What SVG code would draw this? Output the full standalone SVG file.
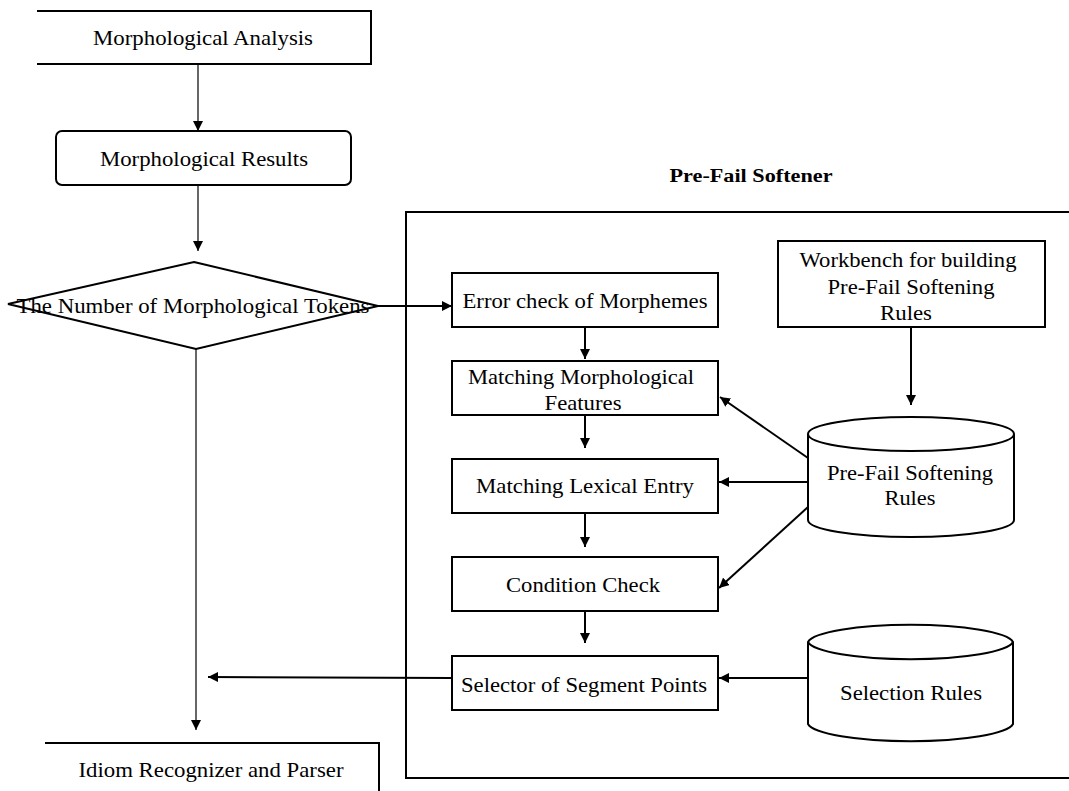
<svg xmlns="http://www.w3.org/2000/svg" width="1069" height="791" viewBox="0 0 1069 791">
<style>
text{font-family:"Liberation Serif","Times New Roman",serif;font-size:21px;fill:#000;text-anchor:middle}
.b{fill:#fff;stroke:#000;stroke-width:2}
.o{fill:none;stroke:#000;stroke-width:2}
.c1{fill:none;stroke:#000;stroke-width:1.2}
.c2{fill:none;stroke:#000;stroke-width:2}
.t{font-weight:bold;font-size:18px}
</style>
<defs>
<marker id="ah" viewBox="0 0 10 10" refX="10" refY="5" markerWidth="10" markerHeight="10" markerUnits="userSpaceOnUse" orient="auto">
<path d="M0,0 L10,5 L0,10 Z" fill="#000"/>
</marker>
<marker id="ah2" viewBox="0 0 10 10" refX="10" refY="5" markerWidth="7" markerHeight="7" markerUnits="strokeWidth" orient="auto">
<path d="M0,0 L10,5 L0,10 Z" fill="#000"/>
</marker>
</defs>

<g id="prefail-softener">
<path class="o" d="M1069,212 H406 V778 H1069"/>
<text class="t" x="751" y="182" textLength="163" lengthAdjust="spacingAndGlyphs">Pre-Fail Softener</text>
</g>

<g id="morph-analysis">
<path class="o" d="M37,11 H371 V64 H37"/>
<text x="203" y="45" textLength="220" lengthAdjust="spacingAndGlyphs">Morphological Analysis</text>
</g>

<g id="morph-results">
<rect class="b" x="56" y="131" width="295" height="54" rx="6" stroke-width="1.5"/>
<text x="204" y="166" textLength="208" lengthAdjust="spacingAndGlyphs">Morphological Results</text>
</g>

<g id="decision">
<polygon class="b" stroke-width="1.5" points="194,262 378,306 196,349 8,304"/>
<text x="193" y="313" textLength="353" lengthAdjust="spacingAndGlyphs">The Number of Morphological Tokens</text>
</g>

<g id="idiom">
<path class="o" stroke-width="1.5" d="M45,743 H379 V791"/>
<text x="211" y="777" textLength="265" lengthAdjust="spacingAndGlyphs">Idiom Recognizer and Parser</text>
</g>

<g id="error-check">
<rect class="b" x="452" y="273" width="266" height="54"/>
<text x="585" y="308" textLength="245" lengthAdjust="spacingAndGlyphs">Error check of Morphemes</text>
</g>

<g id="workbench">
<rect class="b" x="778" y="241" width="267" height="86"/>
<text x="908" y="267" textLength="217" lengthAdjust="spacingAndGlyphs">Workbench for building</text>
<text x="911" y="294" textLength="167" lengthAdjust="spacingAndGlyphs">Pre-Fail Softening</text>
<text x="906" y="320" textLength="52" lengthAdjust="spacingAndGlyphs">Rules</text>
</g>

<g id="matching-features">
<rect class="b" x="452" y="361" width="266" height="54"/>
<text x="581" y="384" textLength="226" lengthAdjust="spacingAndGlyphs">Matching Morphological</text>
<text x="583" y="410" textLength="77" lengthAdjust="spacingAndGlyphs">Features</text>
</g>

<g id="matching-lexical">
<rect class="b" x="452" y="459" width="266" height="54"/>
<text x="585" y="493" textLength="218" lengthAdjust="spacingAndGlyphs">Matching Lexical Entry</text>
</g>

<g id="condition-check">
<rect class="b" x="452" y="557" width="266" height="54"/>
<text x="583" y="592" textLength="154" lengthAdjust="spacingAndGlyphs">Condition Check</text>
</g>

<g id="selector">
<rect class="b" x="452" y="656" width="266" height="54"/>
<text x="584" y="692" textLength="246" lengthAdjust="spacingAndGlyphs">Selector of Segment Points</text>
</g>

<g id="softening-rules">
<path class="b" d="M808,434 A103,17 0 0 1 1014,434 V520 A103,17 0 0 1 808,520 Z"/>
<path class="o" d="M808,434 A103,17 0 0 0 1014,434"/>
<text x="910" y="480" textLength="166" lengthAdjust="spacingAndGlyphs">Pre-Fail Softening</text>
<text x="910" y="505" textLength="51" lengthAdjust="spacingAndGlyphs">Rules</text>
</g>

<g id="selection-rules">
<path class="b" d="M808,642 A103,19 0 0 1 1013,642 V724 A103,19 0 0 1 808,724 Z"/>
<path class="o" d="M808,642 A103,19 0 0 0 1013,642"/>
<text x="911" y="700" textLength="142" lengthAdjust="spacingAndGlyphs">Selection Rules</text>
</g>

<g id="connectors">
<line class="c1" x1="198" y1="64" x2="198" y2="131" marker-end="url(#ah)"/>
<line class="c1" x1="198" y1="185" x2="198" y2="251" marker-end="url(#ah)"/>
<line class="c2" x1="378" y1="306" x2="452" y2="306" marker-end="url(#ah)"/>
<line class="c1" x1="196" y1="349" x2="196" y2="730" marker-end="url(#ah)"/>
<line class="c2" x1="452" y1="678" x2="208" y2="677" marker-end="url(#ah)"/>
<line class="c2" x1="585" y1="327" x2="585" y2="359" marker-end="url(#ah)"/>
<line class="c2" x1="585" y1="415" x2="585" y2="448" marker-end="url(#ah)"/>
<line class="c2" x1="585" y1="513" x2="585" y2="547" marker-end="url(#ah)"/>
<line class="c2" x1="585" y1="611" x2="585" y2="643" marker-end="url(#ah)"/>
<line class="c2" x1="911" y1="327" x2="911" y2="405" marker-end="url(#ah)"/>
<line class="c2" x1="808" y1="458" x2="720" y2="397" marker-end="url(#ah)"/>
<line class="c2" x1="808" y1="482" x2="719" y2="482" marker-end="url(#ah)"/>
<line class="c2" x1="808" y1="507" x2="719" y2="588" marker-end="url(#ah)"/>
<line class="c2" x1="808" y1="678" x2="719" y2="678" marker-end="url(#ah)"/>
</g>
</svg>
